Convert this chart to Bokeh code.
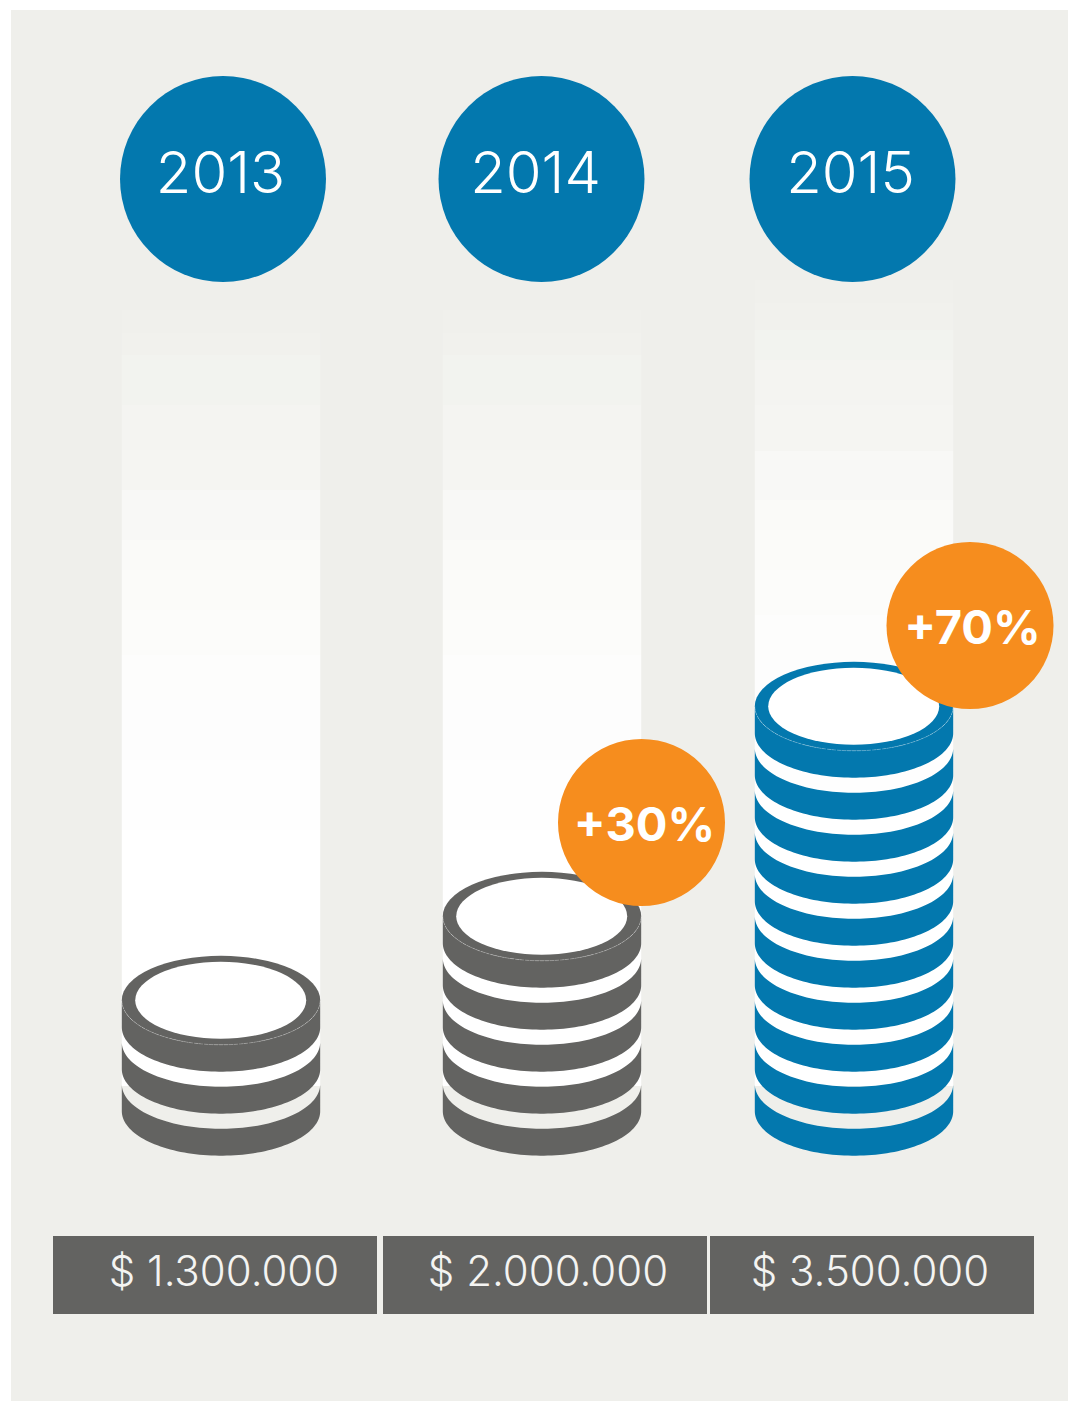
import numpy as np
from bokeh.plotting import figure
from bokeh.models import Range1d
from bokeh.core.properties import value
from bokeh.embed import file_html
from bokeh.resources import INLINE

# --- data ---
years = ["2013", "2014", "2015"]
amounts = ["$ 1.300.000", "$ 2.000.000", "$ 3.500.000"]
coin_counts = [3, 5, 10]
growth_labels = ["+30%", "+70%"]

# --- layout (page pixels) ---
BG, BLUE, GREY, ORANGE = "#EFEFEB", "#0378AE", "#636361", "#F68D1E"
CX = [221, 542, 854]
YEAR_CX = [223, 541.5, 852.5]
YEAR_TX = [220.5, 535.5, 850.5]
AMT_TX = [224, 548, 870]
BAR_L = [53, 383, 710]
BAR_R = [377, 707, 1034]
COIN_COL = [GREY, GREY, BLUE]
GROW_X = [641.5, 970]
GROW_Y = [822.5, 625.5]
GROW_TX = [644.5, 972.5]
RX, RY = 99.2, 44.5
LOW, STEP = 1155.7, 42
COL_END = 1086
BAND_Y1 = [310, 333, 355, 405, 450, 490, 540, 570, 610, 655, 700, 760, 830]
BAND_Y2 = [280, 303, 330, 360, 405, 451, 500, 530, 570, 615, 660, 720, 790]
BAND_C = ["#F0F0EC", "#F1F1ED", "#F2F3EF", "#F4F4F1", "#F5F5F2", "#F8F8F6", "#FAFAF8",
          "#FBFBF9", "#FCFCFA", "#FDFDFC", "#FDFDFD", "#FEFEFE", "#FFFFFF"]
BAND_SETS = [BAND_Y1, BAND_Y1, BAND_Y2]
BASE_FIX = 0.385

p = figure(width=1068, height=1401, x_range=Range1d(0.5, 1068.5), y_range=Range1d(1401.5, 0.5),
           toolbar_location=None, output_backend="svg", min_border=0, outline_line_color=None,
           border_fill_color="white", background_fill_color="white")
p.axis.visible = False
p.grid.visible = False

p.quad(left=[11], right=[1072], top=[10], bottom=[1405], fill_color=BG, line_color=None)

# glow columns
for cx, band in zip(CX, BAND_SETS):
    p.quad(left=cx - RX, right=cx + RX, top=band, bottom=band[1:] + [COL_END],
           fill_color=BAND_C, line_color=None)

t = np.linspace(0, np.pi, 80)
for cx, n, col in zip(CX, coin_counts, COIN_COL):
    xs, ys = [], []
    for i in range(n):
        low = LOW - STEP * i
        bc, tc = low - RY, low - 71.4
        xb = cx + RX * np.cos(t)
        yb = bc + RY * np.sin(t)
        xt = cx + RX * np.cos(t[::-1])
        yt = tc + RY * np.sin(t[::-1])
        xs.append(np.concatenate([xb, xt]).tolist())
        ys.append(np.concatenate([yb, yt]).tolist())
    p.patches(xs, ys, fill_color=col, line_color=None)
    tc = LOW - STEP * (n - 1) - 71.4
    p.ellipse([cx], [tc], width=2 * RX, height=2 * RY, fill_color=col, line_color=None)
    p.line(cx + RX * np.cos(t), tc + RY * np.sin(t), line_color="white", line_alpha=0.4,
           line_width=0.6, line_dash="4 1")
    p.ellipse([cx - 0.3], [tc], width=171, height=77, fill_color="white", line_color=None)

# year discs
YEAR_FS = 58
p.circle(YEAR_CX, [179] * 3, radius=103, fill_color=BLUE, line_color=None)
p.text(YEAR_TX, [194 - BASE_FIX * YEAR_FS] * 3, text=years, text_font=value("Inter Light"),
       text_font_size=f"{YEAR_FS}px", text_color="white", text_align="center", text_baseline="alphabetic")

# growth discs
GROW_FS = 47
p.circle(GROW_X, GROW_Y, radius=83.5, fill_color=ORANGE, line_color=None)
p.text(GROW_TX, [y + 19 - BASE_FIX * GROW_FS for y in GROW_Y], text=growth_labels,
       text_font=value("Inter"), text_font_style="bold", text_font_size=f"{GROW_FS}px",
       text_color="white", text_align="center", text_baseline="alphabetic")

# value bars
AMT_FS = 42
p.quad(left=BAR_L, right=BAR_R, top=[1236] * 3, bottom=[1314] * 3, fill_color=GREY, line_color=None)
p.text(AMT_TX, [1286.5 - BASE_FIX * AMT_FS] * 3, text=amounts, text_font=value("Inter Light"),
       text_font_size=f"{AMT_FS}px", text_color="#F4F4F2", text_align="center", text_baseline="alphabetic")

open("out.html", "w").write(file_html(p, INLINE))
